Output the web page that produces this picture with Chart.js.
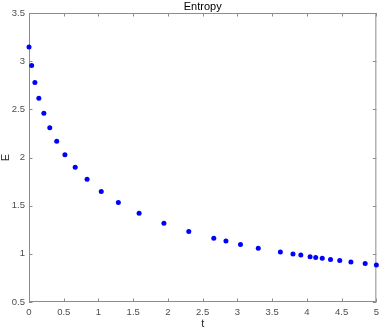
<!DOCTYPE html>
<html>
<head>
<meta charset="utf-8">
<script src="https://cdn.jsdelivr.net/npm/chart.js@4"></script>
<style>
  html, body { margin: 0; padding: 0; background: #fff; }
  #wrap { width: 384px; height: 330px; }
</style>
</head>
<body>
<div id="wrap"><canvas id="chart-0"></canvas></div>
<script>
  var tValues = [0, 0.038, 0.085, 0.142, 0.214, 0.299, 0.399, 0.517, 0.665, 0.836,
    1.04, 1.286, 1.585, 1.942, 2.30, 2.66, 2.835, 3.044, 3.30, 3.618,
    3.80, 3.913, 4.046, 4.127, 4.221, 4.34, 4.473, 4.634, 4.839, 5.0];
  var eValues = [3.146, 2.955, 2.778, 2.616, 2.46, 2.31, 2.168, 2.029, 1.898, 1.773,
    1.648, 1.533, 1.422, 1.318, 1.232, 1.162, 1.134, 1.096, 1.058, 1.019,
    0.999, 0.988, 0.971, 0.961, 0.954, 0.94, 0.93, 0.915, 0.899, 0.884];
  var xTicks = [0, 0.5, 1, 1.5, 2, 2.5, 3, 3.5, 4, 4.5, 5];
  var yTicks = [0.5, 1, 1.5, 2, 2.5, 3, 3.5];
  var titleText = 'Entropy';
  var xLabel = 't';
  var yLabel = 'E';

  var FONT = '"Liberation Sans", Arial, Helvetica, sans-serif';
  var AXIS = '#8c8c8c';

  // matlab-like box with inward ticks, plus title and axis labels
  var matlabBox = {
    id: 'matlabBox',
    beforeDatasetsDraw: function(chart) {
      var ctx = chart.ctx;
      var a = chart.chartArea;
      var xs = chart.scales.x, ys = chart.scales.y;
      ctx.save();
      ctx.strokeStyle = AXIS;
      ctx.lineWidth = 1;
      ctx.beginPath();
      ctx.rect(a.left + 0.5, a.top + 0.5, a.right - a.left - 1, a.bottom - a.top - 1);
      ctx.stroke();
      ctx.beginPath();
      xTicks.forEach(function(v) {
        var px = Math.round(xs.getPixelForValue(v)) + 0.5;
        ctx.moveTo(px, a.bottom); ctx.lineTo(px, a.bottom - 3.5);
        ctx.moveTo(px, a.top); ctx.lineTo(px, a.top + 3.5);
      });
      yTicks.forEach(function(v) {
        var py = Math.round(ys.getPixelForValue(v)) + 0.5;
        ctx.moveTo(a.left, py); ctx.lineTo(a.left + 3.5, py);
        ctx.moveTo(a.right, py); ctx.lineTo(a.right - 3.5, py);
      });
      ctx.stroke();

      ctx.fillStyle = '#000';
      ctx.textAlign = 'center';
      ctx.font = '11px ' + FONT;
      ctx.textBaseline = 'alphabetic';
      ctx.fillText(titleText, (a.left + a.right) / 2, 10);
      ctx.fillStyle = '#262626';
      ctx.font = '11px ' + FONT;
      ctx.fillText(xLabel, (a.left + a.right) / 2, 327);
      ctx.translate(9, (a.top + a.bottom) / 2);
      ctx.rotate(-Math.PI / 2);
      ctx.fillText(yLabel, 0, 0);
      ctx.restore();
    }
  };

  function plainLabel(value) {
    return String(value);
  }

  var data = {
    datasets: [{
      data: tValues.map(function(t, i) { return {x: t, y: eValues[i]}; }),
      backgroundColor: '#0000ff',
      borderColor: '#0000ff',
      pointRadius: 2.5,
      pointBorderWidth: 0,
      showLine: false,
      clip: false
    }]
  };

  var options = {
    responsive: true,
    maintainAspectRatio: false,
    animation: false,
    layout: { padding: { top: 13, right: 3, left: 0, bottom: 0 } },
    plugins: {
      legend: { display: false },
      tooltip: { enabled: false },
      title: { display: false }
    },
    scales: {
      x: {
        type: 'linear',
        min: 0,
        max: 5,
        afterBuildTicks: function(scale) {
          scale.ticks = xTicks.map(function(v) { return {value: v}; });
        },
        afterFit: function(scale) { scale.height = 28; },
        grid: { display: false, drawTicks: false },
        border: { display: false },
        ticks: {
          padding: 5,
          maxRotation: 0,
          autoSkip: false,
          color: '#4d4d4d',
          font: { family: FONT, size: 9.5 },
          callback: plainLabel
        }
      },
      y: {
        type: 'linear',
        min: 0.5,
        max: 3.5,
        afterBuildTicks: function(scale) {
          scale.ticks = yTicks.map(function(v) { return {value: v}; });
        },
        afterFit: function(scale) { scale.width = 29; },
        grid: { display: false, drawTicks: false },
        border: { display: false },
        ticks: {
          padding: 4,
          autoSkip: false,
          color: '#4d4d4d',
          font: { family: FONT, size: 9.5 },
          callback: plainLabel
        }
      }
    }
  };

  var chart = new Chart('chart-0', {
    type: 'scatter',
    data: data,
    options: options,
    plugins: [matlabBox]
  });
</script>
</body>
</html>
